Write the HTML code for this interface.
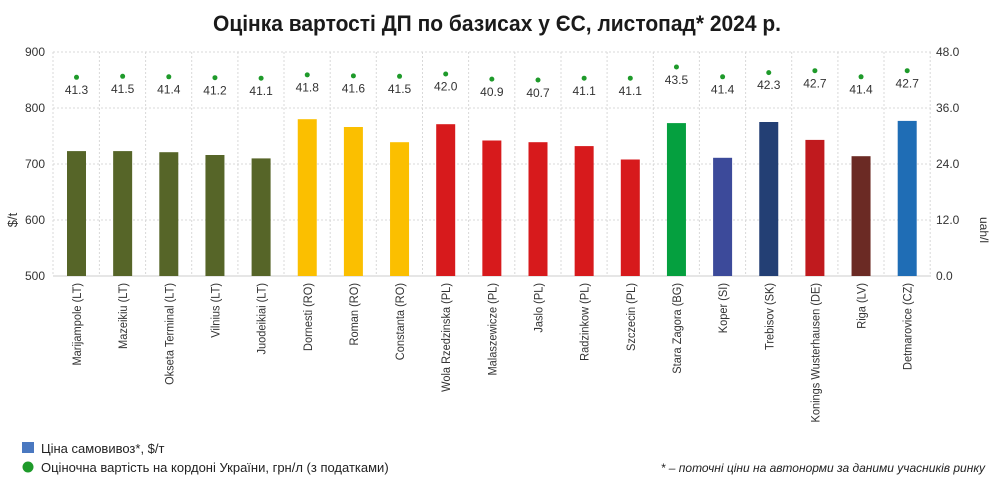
<!DOCTYPE html>
<html><head><meta charset="utf-8"><style>
body{margin:0;background:#fff;}
svg{display:block;font-family:"Liberation Sans","DejaVu Sans",sans-serif;}
</style></head><body>
<svg width="1000" height="490" viewBox="0 0 1000 490">
<text x="497" y="31" text-anchor="middle" font-size="22" font-weight="bold" fill="#1a1a1a" textLength="568" lengthAdjust="spacingAndGlyphs">Оцінка вартості ДП по базисах у ЄС, листопад* 2024 р.</text>
<g stroke="#d8d8d8" stroke-dasharray="2,2" stroke-width="1">
<line x1="53" y1="52" x2="931" y2="52"/><line x1="53" y1="108" x2="931" y2="108"/><line x1="53" y1="164" x2="931" y2="164"/><line x1="53" y1="220" x2="931" y2="220"/>
<line x1="53" y1="52" x2="53" y2="276"/><line x1="99.4" y1="52" x2="99.4" y2="276"/><line x1="145.6" y1="52" x2="145.6" y2="276"/><line x1="191.7" y1="52" x2="191.7" y2="276"/><line x1="237.9" y1="52" x2="237.9" y2="276"/><line x1="284" y1="52" x2="284" y2="276"/><line x1="330.2" y1="52" x2="330.2" y2="276"/><line x1="376.3" y1="52" x2="376.3" y2="276"/><line x1="422.5" y1="52" x2="422.5" y2="276"/><line x1="468.6" y1="52" x2="468.6" y2="276"/><line x1="514.8" y1="52" x2="514.8" y2="276"/><line x1="561" y1="52" x2="561" y2="276"/><line x1="607.1" y1="52" x2="607.1" y2="276"/><line x1="653.3" y1="52" x2="653.3" y2="276"/><line x1="699.4" y1="52" x2="699.4" y2="276"/><line x1="745.6" y1="52" x2="745.6" y2="276"/><line x1="791.7" y1="52" x2="791.7" y2="276"/><line x1="837.9" y1="52" x2="837.9" y2="276"/><line x1="884" y1="52" x2="884" y2="276"/><line x1="930.2" y1="52" x2="930.2" y2="276"/>
</g>
<line x1="53" y1="276" x2="931" y2="276" stroke="#ccc"/>
<g font-size="12" fill="#333" text-anchor="end">
<text x="45" y="56">900</text><text x="45" y="112">800</text><text x="45" y="168">700</text><text x="45" y="224">600</text><text x="45" y="280">500</text>
</g>
<g font-size="12" fill="#333">
<text x="936" y="56">48.0</text><text x="936" y="112">36.0</text><text x="936" y="168">24.0</text><text x="936" y="224">12.0</text><text x="936" y="280">0.0</text>
</g>
<text transform="translate(17,220) rotate(-90)" font-size="13" fill="#333" text-anchor="middle">$/t</text>
<text transform="translate(980,230) rotate(90)" font-size="12" fill="#333" text-anchor="middle">uah/l</text>
<g>
<rect x="67" y="151.1" width="19" height="124.9" fill="#566528"/>
<rect x="113.15" y="151.1" width="19" height="124.9" fill="#566528"/>
<rect x="159.3" y="152.2" width="19" height="123.8" fill="#566528"/>
<rect x="205.45" y="155" width="19" height="121" fill="#566528"/>
<rect x="251.6" y="158.4" width="19" height="117.6" fill="#566528"/>
<rect x="297.75" y="119.2" width="19" height="156.8" fill="#fbbf00"/>
<rect x="343.9" y="127" width="19" height="149" fill="#fbbf00"/>
<rect x="390.05" y="142.2" width="19" height="133.8" fill="#fbbf00"/>
<rect x="436.2" y="124.2" width="19" height="151.8" fill="#d71a1c"/>
<rect x="482.35" y="140.5" width="19" height="135.5" fill="#d71a1c"/>
<rect x="528.5" y="142.2" width="19" height="133.8" fill="#d71a1c"/>
<rect x="574.65" y="146.1" width="19" height="129.9" fill="#d71a1c"/>
<rect x="620.8" y="159.5" width="19" height="116.5" fill="#d71a1c"/>
<rect x="666.95" y="123.1" width="19" height="152.9" fill="#05a03f"/>
<rect x="713.1" y="157.8" width="19" height="118.2" fill="#3c4a9a"/>
<rect x="759.25" y="122" width="19" height="154" fill="#233f74"/>
<rect x="805.4" y="139.9" width="19" height="136.1" fill="#c01a1e"/>
<rect x="851.55" y="156.2" width="19" height="119.8" fill="#6b2a24"/>
<rect x="897.7" y="120.9" width="19" height="155.1" fill="#1f6db5"/>
</g>
<g fill="#1e9a2a">
<circle cx="76.5" cy="77.3" r="2.5"/><circle cx="122.65" cy="76.3" r="2.5"/><circle cx="168.8" cy="76.8" r="2.5"/><circle cx="214.95" cy="77.7" r="2.5"/><circle cx="261.1" cy="78.2" r="2.5"/><circle cx="307.25" cy="74.9" r="2.5"/><circle cx="353.4" cy="75.9" r="2.5"/><circle cx="399.55" cy="76.3" r="2.5"/><circle cx="445.7" cy="74" r="2.5"/><circle cx="491.85" cy="79.1" r="2.5"/><circle cx="538" cy="80" r="2.5"/><circle cx="584.15" cy="78.2" r="2.5"/><circle cx="630.3" cy="78.2" r="2.5"/><circle cx="676.45" cy="67" r="2.5"/><circle cx="722.6" cy="76.8" r="2.5"/><circle cx="768.75" cy="72.6" r="2.5"/><circle cx="814.9" cy="70.7" r="2.5"/><circle cx="861.05" cy="76.8" r="2.5"/><circle cx="907.2" cy="70.7" r="2.5"/>
</g>
<g font-size="12" fill="#333" text-anchor="middle">
<text x="76.5" y="94">41.3</text><text x="122.65" y="93">41.5</text><text x="168.8" y="93.5">41.4</text><text x="214.95" y="94.5">41.2</text><text x="261.1" y="95">41.1</text><text x="307.25" y="91.5">41.8</text><text x="353.4" y="92.5">41.6</text><text x="399.55" y="93">41.5</text><text x="445.7" y="90.5">42.0</text><text x="491.85" y="96">40.9</text><text x="538" y="97">40.7</text><text x="584.15" y="95">41.1</text><text x="630.3" y="95">41.1</text><text x="676.45" y="84">43.5</text><text x="722.6" y="93.5">41.4</text><text x="768.75" y="89">42.3</text><text x="814.9" y="87.5">42.7</text><text x="861.05" y="93.5">41.4</text><text x="907.2" y="87.5">42.7</text>
</g>
<g font-size="12" fill="#333" text-anchor="end" transform="translate(0,283) scale(1,0.92) translate(0,-283)">
<text transform="translate(81,283) rotate(-90)">Marijampole (LT)</text>
<text transform="translate(127.15,283) rotate(-90)">Mazeikiu (LT)</text>
<text transform="translate(173.3,283) rotate(-90)">Okseta Terminal (LT)</text>
<text transform="translate(219.45,283) rotate(-90)">Vilnius (LT)</text>
<text transform="translate(265.6,283) rotate(-90)">Juodeikiai (LT)</text>
<text transform="translate(311.75,283) rotate(-90)">Dornesti (RO)</text>
<text transform="translate(357.9,283) rotate(-90)">Roman (RO)</text>
<text transform="translate(404.05,283) rotate(-90)">Constanta (RO)</text>
<text transform="translate(450.2,283) rotate(-90)">Wola Rzedzinska (PL)</text>
<text transform="translate(496.35,283) rotate(-90)">Malaszewicze (PL)</text>
<text transform="translate(542.5,283) rotate(-90)">Jaslo (PL)</text>
<text transform="translate(588.65,283) rotate(-90)">Radzinkow (PL)</text>
<text transform="translate(634.8,283) rotate(-90)">Szczecin (PL)</text>
<text transform="translate(680.95,283) rotate(-90)">Stara Zagora (BG)</text>
<text transform="translate(727.1,283) rotate(-90)">Koper (SI)</text>
<text transform="translate(773.25,283) rotate(-90)">Trebisov (SK)</text>
<text transform="translate(819.4,283) rotate(-90)">Konings Wusterhausen (DE)</text>
<text transform="translate(865.55,283) rotate(-90)">Riga (LV)</text>
<text transform="translate(911.7,283) rotate(-90)">Detmarovice (CZ)</text>
</g>
<rect x="22" y="442" width="12" height="11" fill="#4a78c0"/>
<text x="41" y="453" font-size="13" fill="#222">Ціна самовивоз*, $/т</text>
<circle cx="28" cy="467" r="5.5" fill="#1e9a2a"/>
<text x="41" y="472" font-size="13" fill="#222">Оціночна вартість на кордоні України, грн/л (з податками)</text>
<text x="985" y="472" font-size="12" font-style="italic" fill="#222" text-anchor="end">* – поточні ціни на автонорми за даними учасників ринку</text>
</svg>
</body></html>
